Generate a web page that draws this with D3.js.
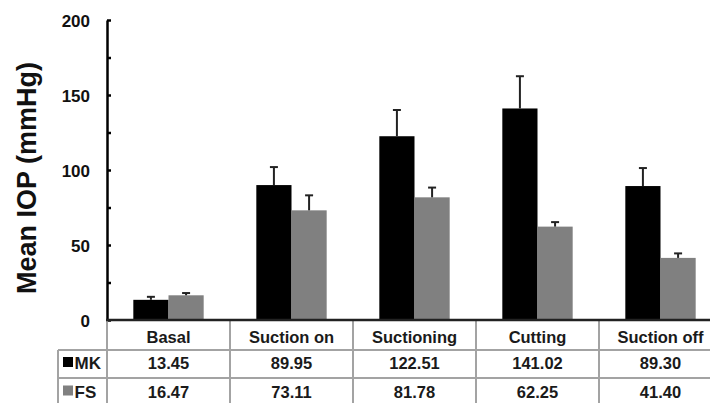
<!DOCTYPE html>
<html>
<head>
<meta charset="utf-8">
<script src="https://cdn.jsdelivr.net/npm/d3@7/dist/d3.min.js"></script>
<style>
  html, body { margin: 0; padding: 0; background: #fff; overflow: hidden; }
  svg { display: block; font-family: "Liberation Sans", Arial, sans-serif; }
</style>
</head>
<body>
<svg id="chart" width="710" height="403"></svg>
<script>
const categories = ["Basal", "Suction on", "Suctioning", "Cutting", "Suction off"];
const seriesNames = ["MK", "FS"];
const mkValues = [13.45, 89.95, 122.51, 141.02, 89.30];
const fsValues = [16.47, 73.11, 81.78, 62.25, 41.40];
const mkErrors = [2, 12, 17.5, 21.5, 12];
const fsErrors = [1.5, 10, 6.5, 3, 3];
const mkLabels = ["13.45", "89.95", "122.51", "141.02", "89.30"];
const fsLabels = ["16.47", "73.11", "81.78", "62.25", "41.40"];
const yTicks = [0, 25, 50, 75, 100, 125, 150, 175, 200];
const yTitle = "Mean IOP (mmHg)";

(function () {
const colors = { MK: "#000000", FS: "#808080" };

const svg = d3.select("#chart");
const pLeft = 107, pRight = 722, pTop = 20, pBottom = 320;

const y = d3.scaleLinear().domain([0, 200]).range([pBottom, pTop]);
const x0 = d3.scaleBand().domain(categories).range([pLeft, pRight]).padding(0);
const bw = x0.bandwidth();
const x1 = d3.scaleBand().domain(seriesNames).range([bw * 0.214, bw * 0.786]).padding(0);

const data = categories.map((c, i) => ({
  cat: c,
  vals: [
    { s: "MK", v: mkValues[i], e: mkErrors[i] },
    { s: "FS", v: fsValues[i], e: fsErrors[i] }
  ]
}));

// bars
const g = svg.append("g");
const groups = g.selectAll("g.grp").data(data).join("g").attr("class", "grp")
  .attr("transform", d => `translate(${x0(d.cat)},0)`);
groups.selectAll("rect").data(d => d.vals).join("rect")
  .attr("x", d => x1(d.s))
  .attr("y", d => y(d.v))
  .attr("width", x1.bandwidth())
  .attr("height", d => y(0) - y(d.v))
  .attr("fill", d => colors[d.s]);

// error bars
const eb = groups.selectAll("g.err").data(d => d.vals).join("g").attr("class", "err");
eb.append("line")
  .attr("x1", d => x1(d.s) + x1.bandwidth() / 2)
  .attr("x2", d => x1(d.s) + x1.bandwidth() / 2)
  .attr("y1", d => y(d.v))
  .attr("y2", d => y(d.v + d.e))
  .attr("stroke", "#222").attr("stroke-width", 2);
eb.append("line")
  .attr("x1", d => x1(d.s) + x1.bandwidth() / 2 - 4)
  .attr("x2", d => x1(d.s) + x1.bandwidth() / 2 + 4)
  .attr("y1", d => y(d.v + d.e))
  .attr("y2", d => y(d.v + d.e))
  .attr("stroke", "#222").attr("stroke-width", 2);

// y axis
const yAxis = d3.axisLeft(y)
  .tickValues(yTicks)
  .tickFormat(d => d % 50 === 0 ? d : "")
  .tickSizeInner(-4)
  .tickSizeOuter(0)
  .tickPadding(17);
const ax = svg.append("g").attr("transform", `translate(${pLeft},0)`).call(yAxis);
ax.select(".domain").attr("stroke", "#000").attr("stroke-width", 2.5);
ax.selectAll(".tick line").attr("stroke", "#000").attr("stroke-width", 2.5);
ax.selectAll(".tick text")
  .attr("font-size", 17).attr("font-weight", "bold").attr("fill", "#111")
  .attr("font-family", "'Liberation Sans', Arial, sans-serif")
  .attr("dy", "0.38em");

// y title
svg.append("text")
  .attr("transform", `translate(36,${(pTop + pBottom) / 2 + 8}) rotate(-90)`)
  .attr("text-anchor", "middle")
  .attr("font-size", 27).attr("font-weight", "bold").attr("fill", "#111")
  .text(yTitle);

// data table
const rowTop = [320, 350, 378];
const rowBottom = 406;
const legendLeft = 58;
const gridColor = "#a3a3a3";
const tg = svg.append("g");

const vlines = categories.map(c => x0(c)).concat([pRight]);
tg.selectAll("line.v").data(vlines).join("line").attr("class", "v")
  .attr("x1", d => d).attr("x2", d => d)
  .attr("y1", rowTop[0]).attr("y2", rowBottom)
  .attr("stroke", gridColor).attr("stroke-width", 2);
tg.append("line")
  .attr("x1", legendLeft).attr("x2", legendLeft)
  .attr("y1", rowTop[1]).attr("y2", rowBottom)
  .attr("stroke", gridColor).attr("stroke-width", 2);
[rowTop[1], rowTop[2], rowBottom].forEach(yy => {
  tg.append("line")
    .attr("x1", legendLeft).attr("x2", pRight)
    .attr("y1", yy).attr("y2", yy)
    .attr("stroke", gridColor).attr("stroke-width", 2);
});

// x axis line (top of table)
svg.append("line")
  .attr("x1", pLeft - 1).attr("x2", pRight)
  .attr("y1", y(0)).attr("y2", y(0))
  .attr("stroke", "#222").attr("stroke-width", 2.5);

// header text
tg.selectAll("text.h").data(categories).join("text").attr("class", "h")
  .attr("x", d => x0(d) + bw / 2)
  .attr("y", 342.5)
  .attr("text-anchor", "middle")
  .attr("font-size", 16.5).attr("font-weight", "bold").attr("fill", "#1a1a1a")
  .text(d => d);

const rowLabels = [mkLabels, fsLabels];
const rowBase = [369, 397.5];
rowLabels.forEach((labels, r) => {
  tg.selectAll(`text.r${r}`).data(labels).join("text").attr("class", `r${r}`)
    .attr("x", (d, i) => x0(categories[i]) + bw / 2)
    .attr("y", rowBase[r])
    .attr("text-anchor", "middle")
    .attr("font-size", 16.5).attr("font-weight", "bold").attr("fill", "#1a1a1a")
    .text(d => d);
  tg.append("rect")
    .attr("x", 63).attr("y", rowBase[r] - 12)
    .attr("width", 10).attr("height", 10)
    .attr("fill", colors[seriesNames[r]]);
  tg.append("text")
    .attr("x", 74.5).attr("y", rowBase[r])
    .attr("font-size", 17).attr("font-weight", "bold").attr("fill", "#1a1a1a")
    .text(seriesNames[r]);
});
})();
</script>
</body>
</html>
